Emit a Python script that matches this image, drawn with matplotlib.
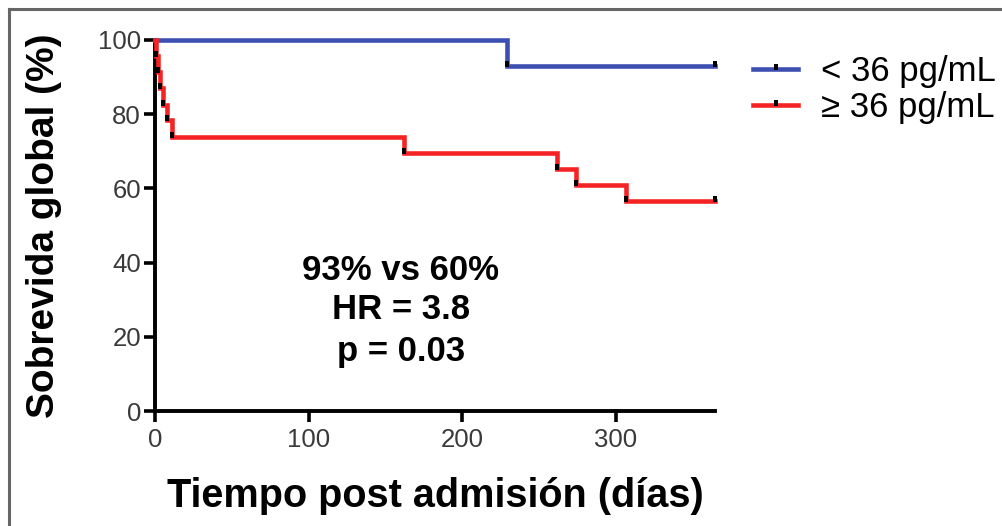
import matplotlib
matplotlib.use("Agg")
import matplotlib.pyplot as plt
from matplotlib.lines import Line2D
from matplotlib.path import Path
import numpy as np

plt.rcParams['font.family'] = ['Liberation Sans', 'DejaVu Sans']

# Kaplan-Meier data (days, % survival)
follow_up_end = 365
low_event_days = [229]
low_survival = [92.9]
high_event_days = [1, 2, 3, 5, 8, 11, 162, 262, 274, 307]
high_survival = [95.7, 91.3, 87.0, 82.6, 78.3, 73.9, 69.6, 65.2, 60.9, 56.5]

group_labels = ["< 36 pg/mL", "\u2265 36 pg/mL"]
x_ticks = [0, 100, 200, 300]
y_ticks = [0, 20, 40, 60, 80, 100]
annotation_lines = ["93% vs 60%", "HR = 3.8", "p = 0.03"]

BLUE = "#3D4FB0"
RED = "#F52424"

# Small black tick mark that sits on the line and pokes upward
tick_marker = Path([(-0.35, -0.3), (0.35, -0.3), (0.35, 1.0), (-0.35, 1.0), (-0.35, -0.3)],
                   [Path.MOVETO, Path.LINETO, Path.LINETO, Path.LINETO, Path.CLOSEPOLY])


def km_steps(days, surv, end):
    x = [0] + list(days) + [end]
    y = [100] + list(surv) + [surv[-1]]
    return np.array(x), np.array(y)


fig = plt.figure(figsize=(10.03, 5.26), dpi=100)
ax = fig.add_axes([0.1545, 0.2186, 0.5588, 0.7054])

for days, surv, color in [(low_event_days, low_survival, BLUE),
                          (high_event_days, high_survival, RED)]:
    x, y = km_steps(days, surv, follow_up_end)
    ax.step(x, y, where="post", color=color, lw=3.3, clip_on=False, zorder=3,
            solid_joinstyle="miter")
    ax.plot(list(days) + [follow_up_end], list(surv) + [surv[-1]], ls="none",
            marker=tick_marker, ms=7, color="black", mec="black", mew=0,
            clip_on=False, zorder=4)

ax.set_xlim(0, follow_up_end)
ax.set_ylim(0, 100)
ax.set_xticks(x_ticks)
ax.set_yticks(y_ticks)
for side in ["top", "right"]:
    ax.spines[side].set_visible(False)
for side in ["left", "bottom"]:
    ax.spines[side].set_linewidth(2.8)
    ax.spines[side].set_capstyle("projecting")
ax.tick_params(axis="both", width=2.6, length=8, labelsize=18.5, labelcolor="#3a3a3a",
               color="black", pad=2)
ax.tick_params(axis="x", pad=4)

ax.set_ylabel("Sobrevida global (%)", fontsize=28, fontweight="bold", labelpad=26)
ax.set_xlabel("Tiempo post admisi\u00f3n (d\u00edas)", fontsize=28.5, fontweight="bold",
              labelpad=18)

for text, yv in zip(annotation_lines, [38, 27.3, 16]):
    ax.text(160, yv, text, ha="center", va="center", fontsize=25, fontweight="bold")

handles = [Line2D([0], [0], color=c, lw=3.3, marker=tick_marker, ms=7,
                  mfc="black", mec="black", mew=0)
           for c in (BLUE, RED)]
fig.legend(handles, group_labels, loc="upper left", bbox_to_anchor=(0.751, 0.895),
           frameon=False, fontsize=25, handlelength=1.3, handletextpad=0.66,
           labelspacing=0.08, borderaxespad=0, borderpad=0, numpoints=1)

# Frame lines along the top and left edge of the figure
fig.add_artist(Line2D([0.0085, 0.0085], [0.0, 0.983], transform=fig.transFigure,
                      color="#666666", lw=2.2))
fig.add_artist(Line2D([0.0085, 1.0], [0.983, 0.983], transform=fig.transFigure,
                      color="#666666", lw=2.2))

fig.savefig("out.png", dpi=100)
